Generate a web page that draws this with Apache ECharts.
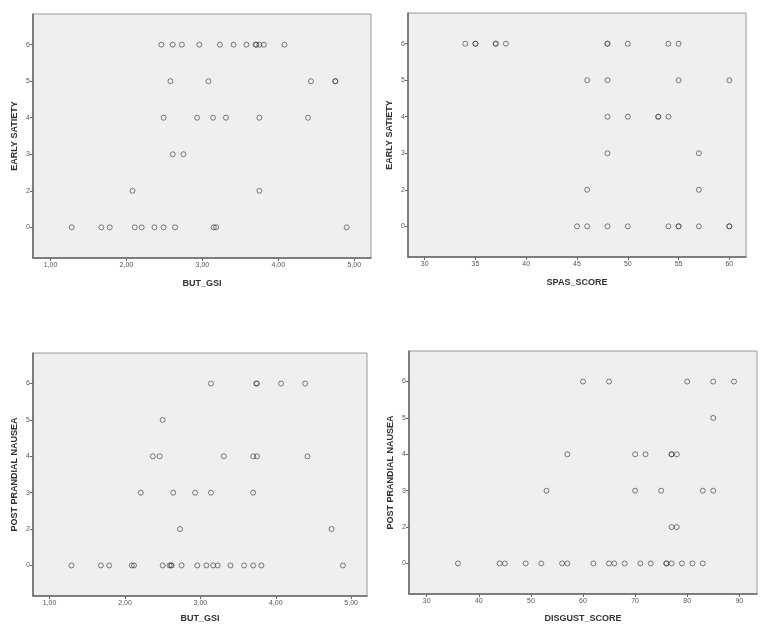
<html>
<head>
    <meta charset="utf-8">
    <script src='https://cdn.jsdelivr.net/npm/echarts@6/dist/echarts.min.js'></script>
</head>
<body>
<div id='main'></div>
<style>
    html, body, #main {
        width: 100%;
        height: 100%;
        margin: 0;
        background: #fff;
    }
</style>
<script>
    // the Y scales are ordinal: only these levels appear, evenly spaced
    var yLevels = ['0', '2', '3', '4', '5', '6'];

    // BUT_GSI vs EARLY SATIETY
    var gsiEsX = [2.46, 2.61, 2.73, 2.96, 3.23, 3.41, 3.58, 3.70, 3.71, 3.75, 3.81, 4.08,
        2.58, 3.08, 4.43, 4.75, 4.75,
        2.49, 2.93, 3.14, 3.31, 3.75, 4.39,
        2.61, 2.75,
        2.08, 3.75,
        1.28, 1.67, 1.78, 2.11, 2.20, 2.37, 2.49, 2.64, 3.15, 3.18, 4.90];
    var gsiEsY = ['6', '6', '6', '6', '6', '6', '6', '6', '6', '6', '6', '6',
        '5', '5', '5', '5', '5',
        '4', '4', '4', '4', '4', '4',
        '3', '3',
        '2', '2',
        '0', '0', '0', '0', '0', '0', '0', '0', '0', '0', '0'];

    // SPAS_SCORE vs EARLY SATIETY
    var spasEsX = [34, 35, 35, 37, 37, 38, 48, 48, 50, 54, 55,
        46, 48, 55, 60,
        48, 50, 53, 53, 54,
        48, 57,
        46, 57,
        45, 46, 48, 50, 54, 55, 55, 57, 60, 60];
    var spasEsY = ['6', '6', '6', '6', '6', '6', '6', '6', '6', '6', '6',
        '5', '5', '5', '5',
        '4', '4', '4', '4', '4',
        '3', '3',
        '2', '2',
        '0', '0', '0', '0', '0', '0', '0', '0', '0', '0'];

    // BUT_GSI vs POST PRANDIAL NAUSEA
    var gsiPpnX = [3.14, 3.74, 3.75, 4.07, 4.39,
        2.50,
        2.37, 2.46, 3.31, 3.70, 3.75, 4.42,
        2.21, 2.64, 2.93, 3.14, 3.70,
        2.73, 4.74,
        1.29, 1.68, 1.79, 2.09, 2.12, 2.50, 2.59, 2.61, 2.62, 2.75, 2.96, 3.08, 3.17, 3.23, 3.40, 3.58, 3.70, 3.81, 4.89];
    var gsiPpnY = ['6', '6', '6', '6', '6',
        '5',
        '4', '4', '4', '4', '4', '4',
        '3', '3', '3', '3', '3',
        '2', '2',
        '0', '0', '0', '0', '0', '0', '0', '0', '0', '0', '0', '0', '0', '0', '0', '0', '0', '0', '0'];

    // DISGUST_SCORE vs POST PRANDIAL NAUSEA
    var disgPpnX = [60, 65, 80, 85, 89,
        85,
        57, 70, 72, 77, 77, 78,
        53, 70, 75, 83, 85,
        77, 78,
        36, 44, 45, 49, 52, 56, 57, 62, 65, 66, 68, 71, 73, 76, 76, 77, 79, 81, 83];
    var disgPpnY = ['6', '6', '6', '6', '6',
        '5',
        '4', '4', '4', '4', '4', '4',
        '3', '3', '3', '3', '3',
        '2', '2',
        '0', '0', '0', '0', '0', '0', '0', '0', '0', '0', '0', '0', '0', '0', '0', '0', '0', '0', '0'];

    var gsiTicks = [1, 2, 3, 4, 5];
    var spasTicks = [30, 35, 40, 45, 50, 55, 60];
    var disgTicks = [30, 40, 50, 60, 70, 80, 90];

    function pts(xs, ys) {
        var out = [];
        for (var i = 0; i < xs.length; i++) {
            out.push([xs[i], yLevels.indexOf(ys[i])]);
        }
        return out;
    }

    var FONT = 'Liberation Sans';
    var levelIdx = yLevels.map(function (v, i) { return i; });

    function grid(l, t, w, h) {
        return {
            left: l, top: t, width: w, height: h,
            show: true,
            backgroundColor: '#efefef',
            borderColor: '#9a9a9a',
            borderWidth: 1
        };
    }

    function xAxis(idx, name, min, max, ticks, fmt, gap) {
        return {
            gridIndex: idx,
            type: 'value',
            min: min, max: max,
            name: name,
            nameLocation: 'middle',
            nameGap: gap,
            nameTextStyle: {fontFamily: FONT, fontWeight: 'bold', fontSize: 9, color: '#333'},
            splitLine: {show: false},
            axisLine: {show: true, onZero: false, lineStyle: {color: '#666', width: 1.5}},
            axisTick: {show: true, length: 3, customValues: ticks, lineStyle: {color: '#666'}},
            axisLabel: {
                customValues: ticks, fontFamily: FONT, fontSize: 7, color: '#555', margin: 4,
                formatter: fmt
            }
        };
    }

    function yAxis(idx, name) {
        return {
            gridIndex: idx,
            type: 'value',
            min: -0.84, max: 5.84,
            name: name,
            nameLocation: 'middle',
            nameGap: 14,
            nameTextStyle: {fontFamily: FONT, fontWeight: 'bold', fontSize: 9, color: '#333'},
            splitLine: {show: false},
            axisLine: {show: true, onZero: false, lineStyle: {color: '#666', width: 1.5}},
            axisTick: {show: true, length: 3, customValues: levelIdx, lineStyle: {color: '#666'}},
            axisLabel: {
                customValues: levelIdx, fontFamily: FONT, fontSize: 7, color: '#555', margin: 3,
                formatter: function (v) { return yLevels[Math.round(v)]; }
            }
        };
    }

    function scatter(idx, data) {
        return {
            type: 'scatter',
            xAxisIndex: idx, yAxisIndex: idx,
            symbol: 'circle',
            symbolSize: 5,
            itemStyle: {color: 'transparent', borderColor: 'rgba(55,55,55,0.8)', borderWidth: 1},
            data: data
        };
    }

    var comma2 = function (v) { return v.toFixed(2).replace('.', ','); };
    var plain = function (v) { return String(v); };

    var chart = echarts.init(document.getElementById('main'));
    chart.setOption({
        animation: false,
        grid: [
            grid(33, 14, 338, 244),
            grid(408, 13, 338, 244),
            grid(33, 353, 334, 243),
            grid(409, 351, 348, 243)
        ],
        xAxis: [
            xAxis(0, 'BUT_GSI', 0.77, 5.22, gsiTicks, comma2, 21),
            xAxis(1, 'SPAS_SCORE', 28.36, 61.64, spasTicks, plain, 21),
            xAxis(2, 'BUT_GSI', 0.78, 5.21, gsiTicks, comma2, 18),
            xAxis(3, 'DISGUST_SCORE', 26.6, 93.4, disgTicks, plain, 20)
        ],
        yAxis: [
            yAxis(0, 'EARLY SATIETY'),
            yAxis(1, 'EARLY SATIETY'),
            yAxis(2, 'POST PRANDIAL NAUSEA'),
            yAxis(3, 'POST PRANDIAL NAUSEA')
        ],
        series: [
            scatter(0, pts(gsiEsX, gsiEsY)),
            scatter(1, pts(spasEsX, spasEsY)),
            scatter(2, pts(gsiPpnX, gsiPpnY)),
            scatter(3, pts(disgPpnX, disgPpnY))
        ]
    });
</script>
</body>
</html>
